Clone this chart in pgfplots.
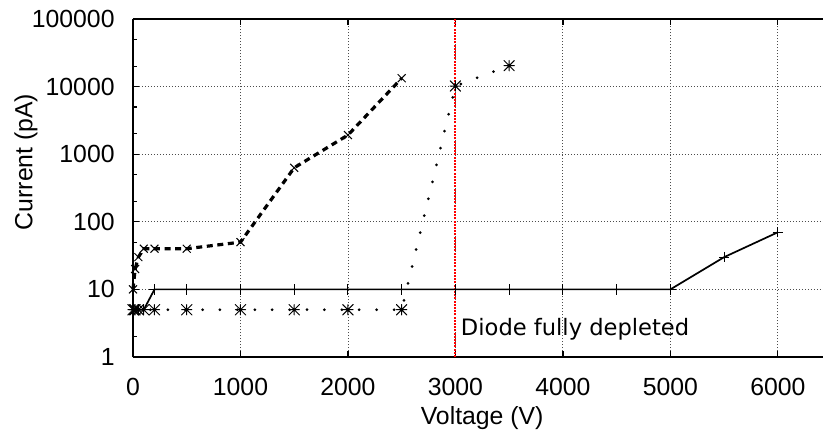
\documentclass[border=0pt]{standalone}
\usepackage{fontspec}
\setmainfont{Liberation Sans}
\newfontfamily\dejavu{DejaVu Sans}
\usepackage{pgfplots}
\pgfplotsset{compat=1.18}

\pgfdeclareplotmark{gpstar}{%
  \pgfpathmoveto{\pgfqpoint{-\pgfplotmarksize}{0pt}}%
  \pgfpathlineto{\pgfqpoint{\pgfplotmarksize}{0pt}}%
  \pgfpathmoveto{\pgfqpoint{0pt}{-\pgfplotmarksize}}%
  \pgfpathlineto{\pgfqpoint{0pt}{\pgfplotmarksize}}%
  \pgfpathmoveto{\pgfqpoint{-\pgfplotmarksize}{-\pgfplotmarksize}}%
  \pgfpathlineto{\pgfqpoint{\pgfplotmarksize}{\pgfplotmarksize}}%
  \pgfpathmoveto{\pgfqpoint{-\pgfplotmarksize}{\pgfplotmarksize}}%
  \pgfpathlineto{\pgfqpoint{\pgfplotmarksize}{-\pgfplotmarksize}}%
  \pgfusepathqstroke}

\begin{document}
\begin{tikzpicture}
\begin{axis}[
  at={(0,0)}, anchor=south west,
  scale only axis, width=345bp, height=169bp,
  xmin=0, xmax=6420,
  ymode=log, ymin=1, ymax=100000,
  axis y line*=left,
  xtick={0,1000,2000,3000,4000,5000,6000},
  xticklabels={0,1000,2000,3000,4000,5000,6000},
  ytick={1,10,100,1000,10000,100000},
  yticklabels={1,10,100,1000,10000,100000},
  minor ytick={2,5,20,50,200,500,2000,5000,20000,50000},
  tick align=inside, major tick length=3bp, minor tick length=1.8bp,
  tick style={black, line width=0.6bp},
  axis line style={line width=0.8bp},
  grid=major,
  major grid style={black!70, line width=0.45bp, dash pattern=on 0.5bp off 1bp},
  tick label style={font=\fontsize{12.4bp}{14bp}\selectfont},
  xticklabel style={anchor=north, inner sep=0pt, yshift=-10.5bp},
  yticklabel style={anchor=east, inner sep=0pt, xshift=-9bp},
  label style={font=\fontsize{12.4bp}{14bp}\selectfont},
  xlabel={Voltage (V)}, ylabel={Current (pA)},
  xlabel style={at={(axis description cs:0.506,-0.182)}, anchor=center},
  ylabel style={at={(axis description cs:-0.155,0.577)}, anchor=center},
  clip=false,
]
% solid line, + marks
\addplot[black, line width=0.85bp, mark=+, mark size=2.6bp,
  mark options={solid, line width=0.5bp}] coordinates {
  (0,5) (50,5) (100,5) (200,10) (500,10) (1000,10) (1500,10) (2000,10)
  (2500,10) (3000,10) (3500,10) (4000,10) (4500,10) (5000,10)
  (5500,30) (6000,70)
};
% dashed line, x marks
\addplot[black, line width=1.6bp, dash pattern=on 3bp off 2.3bp, mark=x, mark size=2.8bp,
  mark options={solid, line width=0.5bp}] coordinates {
  (0,10) (20,20) (50,30) (100,40) (200,40) (500,40) (1000,50)
  (1500,630) (2000,1920) (2500,13300)
};
% dotted line, asterisk marks
\addplot[black, line width=1.5bp, line cap=round, dash pattern=on 0bp off 8.7bp,
  mark=gpstar, mark size=2.6bp,
  mark options={solid, line width=0.5bp}] coordinates {
  (0,5) (10,5) (20,5) (50,5) (100,5) (200,5) (500,5) (1000,5) (1500,5)
  (2000,5) (2500,5) (3000,10200) (3500,20400)
};
% red vertical line at full depletion
\addplot[red, line width=1bp, dash pattern=on 1bp off 0.6bp] coordinates {
  (3000,1) (3000,100000)
};
\node[anchor=base west, inner sep=0pt, font=\dejavu\fontsize{11.3bp}{13bp}\selectfont]
  at (axis cs:3048,2.1) {Diode fully depleted};
\end{axis}
\pgfresetboundingbox
\useasboundingbox (-66.5bp,-40bp) rectangle (345bp,178.5bp);
\end{tikzpicture}
\end{document}
